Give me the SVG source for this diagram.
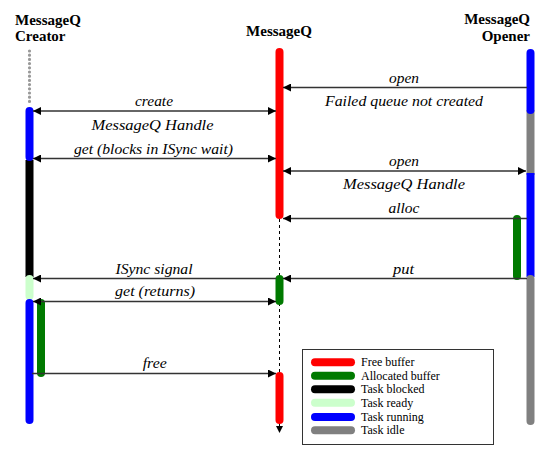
<svg xmlns="http://www.w3.org/2000/svg" width="547" height="462" viewBox="0 0 547 462">
<style>
text{font-family:'Liberation Serif','Times New Roman',Times,serif}
.title{font-weight:bold;font-size:15px;fill:#000}
.lbl{font-style:italic;font-size:15px;fill:#000;text-anchor:middle}
.leg{font-size:12px;fill:#000}
.bar{stroke-width:8;fill:none}
.rc{stroke-linecap:round}
.msg{stroke:#333;stroke-width:1.4;fill:none}
</style>
<defs>
<marker id="ah" viewBox="0 0 8 8" refX="8" refY="4" markerWidth="8" markerHeight="8" markerUnits="userSpaceOnUse" orient="auto-start-reverse">
<path d="M0,0 L8,4 L0,8 z" fill="#000"/>
</marker>
</defs>
<rect width="547" height="462" fill="#fff"/>

<g id="creator" font-family="Liberation Serif, serif">
<text class="title" x="15" y="25">MessageQ</text>
<text class="title" x="15" y="41">Creator</text>
<line x1="29.5" y1="51" x2="29.5" y2="104" stroke="#999" stroke-width="3.2" stroke-linecap="round" stroke-dasharray="0 4.2"/>
<line class="bar" x1="29.5" y1="160" x2="29.5" y2="277" stroke="#000"/>
<line class="bar rc" x1="29.5" y1="279" x2="29.5" y2="296" stroke="#ccffcc"/>
<line class="bar rc" x1="29.5" y1="303" x2="29.5" y2="420" stroke="#0000ff"/>
<line class="bar rc" x1="29.5" y1="111" x2="29.5" y2="157" stroke="#0000ff"/>
<line class="bar rc" x1="41" y1="303" x2="41" y2="373" stroke="#007a00"/>
</g>

<g id="messageq" font-family="Liberation Serif, serif">
<text class="title" x="279" y="36" text-anchor="middle">MessageQ</text>
<line x1="279.5" y1="219" x2="279.5" y2="427" stroke="#000" stroke-width="1" stroke-dasharray="3,3"/>
<path d="M276,426 L283,426 L279.5,433 z" fill="#000"/>
<line class="bar rc" x1="279.5" y1="52" x2="279.5" y2="215" stroke="#ff0000"/>
<line class="bar rc" x1="279.5" y1="279" x2="279.5" y2="301" stroke="#007a00"/>
<line class="bar rc" x1="279.5" y1="376" x2="279.5" y2="420" stroke="#ff0000"/>
</g>

<g id="opener" font-family="Liberation Serif, serif">
<text class="title" x="530" y="23.5" text-anchor="end">MessageQ</text>
<text class="title" x="530" y="41" text-anchor="end">Opener</text>
<line class="bar" x1="530.5" y1="110" x2="530.5" y2="175" stroke="#808080"/>
<line class="bar" x1="530.5" y1="173" x2="530.5" y2="277" stroke="#0000ff"/>
<line class="bar rc" x1="530.5" y1="279" x2="530.5" y2="421" stroke="#808080"/>
<line class="bar rc" x1="530.5" y1="53" x2="530.5" y2="110" stroke="#0000ff"/>
<line class="bar rc" x1="517" y1="219" x2="517" y2="276" stroke="#007a00"/>
</g>

<g id="connectors" font-family="Liberation Serif, serif">
<line class="msg" x1="527" y1="87.5" x2="283" y2="87.5" marker-end="url(#ah)"/>
<line class="msg" x1="33" y1="111" x2="276" y2="111" marker-start="url(#ah)" marker-end="url(#ah)"/>
<line class="msg" x1="33" y1="158.5" x2="276" y2="158.5" marker-start="url(#ah)" marker-end="url(#ah)"/>
<line class="msg" x1="283" y1="171" x2="526" y2="171" marker-start="url(#ah)" marker-end="url(#ah)"/>
<line class="msg" x1="527" y1="218.5" x2="283" y2="218.5" marker-end="url(#ah)"/>
<line class="msg" x1="276" y1="278.5" x2="33" y2="278.5" marker-end="url(#ah)"/>
<line class="msg" x1="527" y1="278.5" x2="283" y2="278.5" marker-end="url(#ah)"/>
<line class="msg" x1="33" y1="301.5" x2="276" y2="301.5" marker-start="url(#ah)" marker-end="url(#ah)"/>
<line class="msg" x1="32" y1="373.5" x2="276" y2="373.5" marker-end="url(#ah)"/>

<text class="lbl" x="404" y="83" textLength="30" lengthAdjust="spacingAndGlyphs">open</text>
<text class="lbl" x="404" y="106" textLength="158" lengthAdjust="spacingAndGlyphs">Failed queue not created</text>
<text class="lbl" x="154" y="106" textLength="38" lengthAdjust="spacingAndGlyphs">create</text>
<text class="lbl" x="152.5" y="130" textLength="122" lengthAdjust="spacingAndGlyphs">MessageQ  Handle</text>
<text class="lbl" x="153.5" y="154" textLength="159" lengthAdjust="spacingAndGlyphs">get (blocks in ISync wait)</text>
<text class="lbl" x="404" y="166" textLength="30" lengthAdjust="spacingAndGlyphs">open</text>
<text class="lbl" x="404" y="189" textLength="122" lengthAdjust="spacingAndGlyphs">MessageQ  Handle</text>
<text class="lbl" x="404" y="213" textLength="31" lengthAdjust="spacingAndGlyphs">alloc</text>
<text class="lbl" x="154" y="274" textLength="77" lengthAdjust="spacingAndGlyphs">ISync signal</text>
<text class="lbl" x="403.5" y="274" textLength="21" lengthAdjust="spacingAndGlyphs">put</text>
<text class="lbl" x="155" y="296" textLength="80" lengthAdjust="spacingAndGlyphs">get (returns)</text>
<text class="lbl" x="154.7" y="368" textLength="24" lengthAdjust="spacingAndGlyphs">free</text>
</g>

<g id="legend" font-family="Liberation Serif, serif">
<rect x="302.5" y="349.5" width="191" height="95" fill="#fff" stroke="#333" stroke-width="1"/>
<line class="bar rc" x1="315" y1="362.3" x2="351" y2="362.3" stroke="#ff0000"/>
<line class="bar rc" x1="315" y1="375.7" x2="351" y2="375.7" stroke="#007a00"/>
<line class="bar rc" x1="315" y1="389.3" x2="351" y2="389.3" stroke="#000"/>
<line class="bar rc" x1="315" y1="402.7" x2="351" y2="402.7" stroke="#ccffcc"/>
<line class="bar rc" x1="315" y1="417" x2="351" y2="417" stroke="#0000ff"/>
<line class="bar rc" x1="315" y1="430.3" x2="351" y2="430.3" stroke="#808080"/>
<text class="leg" x="361" y="366">Free buffer</text>
<text class="leg" x="361" y="379.5">Allocated buffer</text>
<text class="leg" x="361" y="393">Task blocked</text>
<text class="leg" x="361" y="406.5">Task ready</text>
<text class="leg" x="361" y="420.5">Task running</text>
<text class="leg" x="361" y="434">Task idle</text>
</g>
</svg>
